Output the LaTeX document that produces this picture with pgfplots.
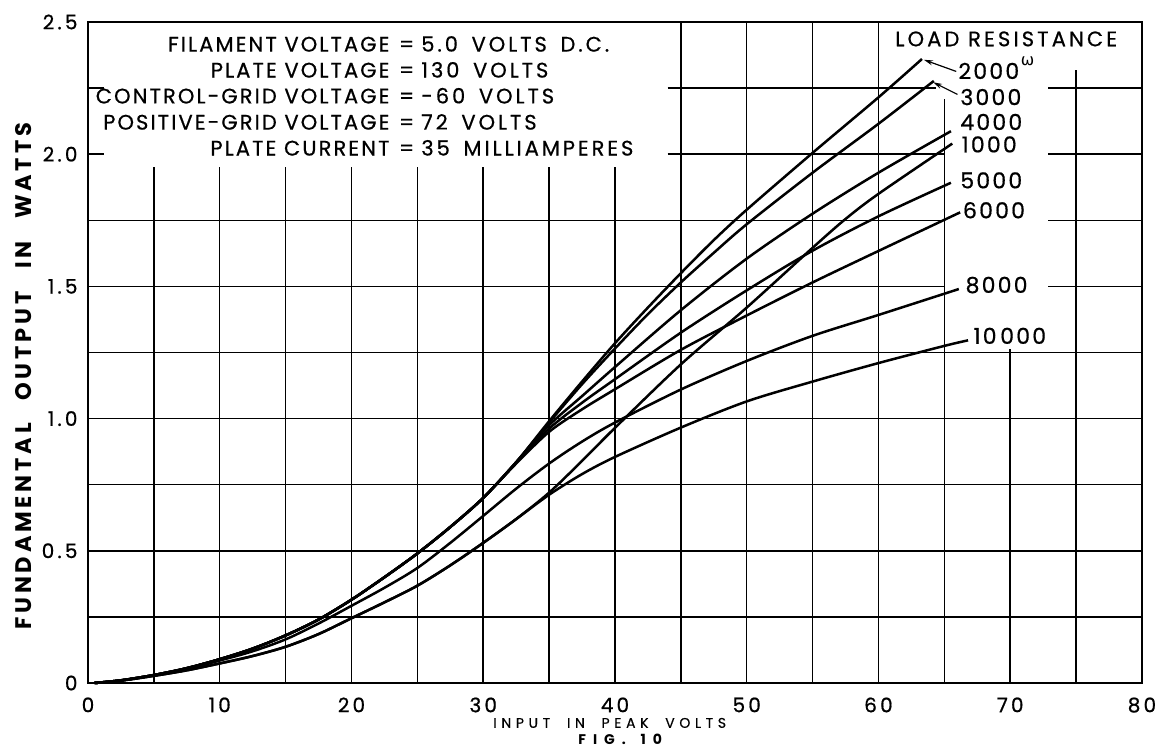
\documentclass[border=0pt]{standalone}
\usepackage{fontspec}
\setmainfont{Poppins}
\newfontfamily\grk{DejaVu Sans}
\newfontfamily\lt{Poppins}[LetterSpace=10, FakeBold=0.6]
\newfontfamily\ltr{Poppins}[LetterSpace=14, FakeBold=0.6, WordSpace=1.6]
\newfontfamily\ltn{Poppins}[LetterSpace=16, FakeBold=0.8]
\newfontfamily\ltw{Poppins}[LetterSpace=15, FakeBold=0.6]
\newfontfamily\ltx{Poppins}[LetterSpace=33, FakeBold=0.4, WordSpace=2]
\newfontfamily\ltf{Poppins}[LetterSpace=50, WordSpace=1.5]
\newfontfamily\lty{Poppins}[LetterSpace=17]
\usepackage{pgfplots}
\pgfplotsset{compat=1.18}
\usetikzlibrary{arrows.meta}
\tikzset{gridln/.style={line width=1.5pt},
  crv/.style={black, solid, line width=2.5pt, smooth, mark=none}}
\newcommand\lab{\lt\fontsize{21}{22}\selectfont}
\newcommand\rlab{\ltr\fontsize{21}{22}\selectfont}
\newcommand\nlab{\lt\fontsize{22}{24}\selectfont}
\begin{document}
\begin{tikzpicture}[x=1pt,y=1pt]
\begin{axis}[
  at={(0pt,0pt)}, anchor=south west,
  width=1054pt, height=661pt, scale only axis,
  xmin=0, xmax=80, ymin=0, ymax=2.5,
  axis line style={line width=2.8pt},
  xtick={0,10,20,30,40,50,60,70,80},
  ytick={0,0.5,1,1.5,2,2.5},
  yticklabels={0,0.5,1.0,1.5,2.0,2.5},
  major tick length=0pt,
  /pgf/number format/assume math mode=true,
  tick label style={font=\ltn\fontsize{20}{22}\selectfont},
  xticklabel style={yshift=-11pt},
  yticklabel style={xshift=-7pt},
  clip=false,
]
% ---- grid with gaps ----
\draw[gridln] (axis cs:5,0) -- (axis cs:5,1.95);
\draw[gridln] (axis cs:10,0) -- (axis cs:10,1.95);
\draw[gridln] (axis cs:15,0) -- (axis cs:15,1.95);
\draw[gridln] (axis cs:20,0) -- (axis cs:20,1.95);
\draw[gridln] (axis cs:25,0) -- (axis cs:25,1.95);
\draw[gridln] (axis cs:30,0) -- (axis cs:30,1.95);
\draw[gridln] (axis cs:35,0) -- (axis cs:35,1.95);
\draw[gridln] (axis cs:40,0) -- (axis cs:40,1.95);
\draw[gridln] (axis cs:45,0) -- (axis cs:45,2.5);
\draw[gridln] (axis cs:50,0) -- (axis cs:50,2.5);
\draw[gridln] (axis cs:55,0) -- (axis cs:55,2.5);
\draw[gridln] (axis cs:60,0) -- (axis cs:60,2.5);
\draw[gridln] (axis cs:65,0) -- (axis cs:65,2.21);
\draw[gridln] (axis cs:70,0) -- (axis cs:70,1.265);
\draw[gridln] (axis cs:75,0) -- (axis cs:75,2.32);
\draw[gridln] (axis cs:0,0.25) -- (axis cs:80,0.25);
\draw[gridln] (axis cs:0,0.5) -- (axis cs:80,0.5);
\draw[gridln] (axis cs:0,0.75) -- (axis cs:80,0.75);
\draw[gridln] (axis cs:0,1.0) -- (axis cs:80,1.0);
\draw[gridln] (axis cs:0,1.25) -- (axis cs:80,1.25);
\draw[gridln] (axis cs:0,1.5) -- (axis cs:65,1.5);
\draw[gridln] (axis cs:72.9,1.5) -- (axis cs:80,1.5);
\draw[gridln] (axis cs:0,1.75) -- (axis cs:65,1.75);
\draw[gridln] (axis cs:72.9,1.75) -- (axis cs:80,1.75);
\draw[gridln] (axis cs:0,2.0) -- (axis cs:1.2,2.0);
\draw[gridln] (axis cs:44,2.0) -- (axis cs:65,2.0);
\draw[gridln] (axis cs:72.9,2.0) -- (axis cs:80,2.0);
\draw[gridln] (axis cs:0,2.25) -- (axis cs:1.2,2.25);
\draw[gridln] (axis cs:44,2.25) -- (axis cs:64.4,2.25);
\draw[gridln] (axis cs:72.9,2.25) -- (axis cs:80,2.25);

% ---- curves ----
% 2000
\addplot[crv] coordinates {(0.5,0) (2.5,0.01) (5,0.03) (7.5,0.056) (10,0.09) (12.5,0.13) (15,0.18) (17.5,0.24) (20,0.315) (22.5,0.40) (25,0.49) (27.5,0.59) (30,0.70) (32.5,0.835) (35,0.99) (37.5,1.14) (40,1.285) (42.5,1.42) (45,1.55) (47.5,1.675) (50,1.79) (55,2.005) (60,2.215) (63.3,2.36)};
% 3000
\addplot[crv] coordinates {(0.5,0) (2.5,0.01) (5,0.03) (7.5,0.056) (10,0.09) (12.5,0.13) (15,0.18) (17.5,0.24) (20,0.315) (22.5,0.40) (25,0.49) (27.5,0.59) (30,0.70) (32.5,0.835) (35,0.985) (37.5,1.13) (40,1.265) (42.5,1.395) (45,1.515) (47.5,1.627) (50,1.735) (55,1.93) (60,2.115) (64.2,2.277)};
% 4000
\addplot[crv] coordinates {(0.5,0) (2.5,0.01) (5,0.03) (7.5,0.056) (10,0.09) (12.5,0.13) (15,0.18) (17.5,0.24) (20,0.315) (22.5,0.40) (25,0.49) (27.5,0.59) (30,0.70) (32.5,0.835) (35,0.975) (37.5,1.085) (40,1.195) (45,1.41) (50,1.605) (55,1.775) (60,1.93) (65.5,2.087)};
% 5000
\addplot[crv] coordinates {(0.5,0) (2.5,0.01) (5,0.03) (7.5,0.056) (10,0.09) (12.5,0.13) (15,0.18) (17.5,0.24) (20,0.315) (22.5,0.40) (25,0.49) (27.5,0.59) (30,0.70) (32.5,0.833) (35,0.962) (37.5,1.06) (40,1.149) (45,1.325) (50,1.485) (55,1.635) (60,1.765) (65.5,1.892)};
% 6000
\addplot[crv] coordinates {(0.5,0) (2.5,0.01) (5,0.03) (7.5,0.056) (10,0.09) (12.5,0.13) (15,0.18) (17.5,0.24) (20,0.315) (22.5,0.40) (25,0.49) (27.5,0.59) (30,0.70) (32.5,0.83) (35,0.95) (37.5,1.035) (40,1.111) (45,1.26) (50,1.39) (55,1.515) (60,1.634) (66.2,1.78)};
% 8000
\addplot[crv] coordinates {(0.5,0) (2.5,0.01) (5,0.029) (7.5,0.053) (10,0.085) (12.5,0.12) (15,0.165) (17.5,0.225) (20,0.292) (22.5,0.36) (25,0.435) (27.5,0.53) (30,0.632) (32.5,0.735) (35,0.83) (37.5,0.913) (40,0.985) (45,1.11) (50,1.218) (55,1.313) (60,1.392) (66.1,1.49)};
% 1000
\addplot[crv] coordinates {(0.5,0) (2.5,0.009) (5,0.027) (7.5,0.048) (10,0.074) (12.5,0.102) (15,0.137) (17.5,0.185) (20,0.245) (22.5,0.305) (25,0.368) (27.5,0.445) (30,0.53) (32.5,0.62) (35,0.72) (37.5,0.84) (40,0.965) (45,1.205) (50,1.42) (55,1.646) (57.5,1.755) (60,1.85) (65.6,2.04)};
% 10000
\addplot[crv] coordinates {(0.5,0) (2.5,0.009) (5,0.027) (7.5,0.048) (10,0.074) (12.5,0.102) (15,0.137) (17.5,0.185) (20,0.245) (22.5,0.305) (25,0.368) (27.5,0.445) (30,0.53) (32.5,0.62) (35,0.712) (37.5,0.79) (40,0.855) (45,0.966) (50,1.065) (55,1.14) (60,1.21) (65,1.275) (66.8,1.296)};

% ---- text block ----
\node[anchor=base east, inner sep=0, font=\lab] at (axis cs:22.9,2.388) {FILAMENT VOLTAGE};
\node[anchor=base west, inner sep=0, font=\rlab] at (axis cs:23.6,2.388) {=\hspace{7pt}5.0 VOLTS D.C.};
\node[anchor=base east, inner sep=0, font=\lab] at (axis cs:22.9,2.290) {PLATE VOLTAGE};
\node[anchor=base west, inner sep=0, font=\rlab] at (axis cs:23.6,2.290) {=\hspace{7pt}130 VOLTS};
\node[anchor=base east, inner sep=0, font=\lab] at (axis cs:22.9,2.192) {CONTROL-GRID VOLTAGE};
\node[anchor=base west, inner sep=0, font=\rlab] at (axis cs:23.6,2.192) {=\hspace{7pt}-60 VOLTS};
\node[anchor=base east, inner sep=0, font=\lab] at (axis cs:22.9,2.093) {POSITIVE-GRID VOLTAGE};
\node[anchor=base west, inner sep=0, font=\rlab] at (axis cs:23.6,2.093) {=\hspace{7pt}72 VOLTS};
\node[anchor=base east, inner sep=0, font=\lab] at (axis cs:22.9,1.995) {PLATE CURRENT};
\node[anchor=base west, inner sep=0, font=\rlab] at (axis cs:23.6,1.995) {=\hspace{7pt}35 MILLIAMPERES};

% ---- curve labels ----
\node[inner sep=0, font=\ltw\fontsize{21}{22}\selectfont] at (axis cs:69.7,2.436) {LOAD RESISTANCE};
\node[anchor=west, inner sep=0, font=\nlab] at (axis cs:66.06,2.315) {2000};
\node[anchor=west, inner sep=0, font=\fontsize{16}{18}\selectfont\grk] at (axis cs:70.8,2.35) {ω};
\node[anchor=west, inner sep=0, font=\nlab] at (axis cs:66.2,2.216) {3000};
\node[anchor=west, inner sep=0, font=\nlab] at (axis cs:66.2,2.122) {4000};
\node[anchor=west, inner sep=0, font=\nlab] at (axis cs:66.3,2.037) {1000};
\node[anchor=west, inner sep=0, font=\nlab] at (axis cs:66.2,1.901) {5000};
\node[anchor=west, inner sep=0, font=\nlab] at (axis cs:66.4,1.788) {6000};
\node[anchor=west, inner sep=0, font=\nlab] at (axis cs:66.6,1.505) {8000};
\node[anchor=west, inner sep=0, font=\nlab] at (axis cs:67.2,1.313) {10\,000};
\draw[line width=1.2pt, -{Stealth[length=9pt,width=5pt]}] (axis cs:65.9,2.313) -- (axis cs:63.45,2.357);
\draw[line width=1.2pt, -{Stealth[length=9pt,width=5pt]}] (axis cs:66.0,2.226) -- (axis cs:64.15,2.272);

% ---- axis labels ----
\node[font=\ltx\fontsize{14}{16}\selectfont] at (axis cs:39.6,-0.151) {INPUT IN PEAK VOLTS};
\node[font=\ltf\fontsize{14}{16}\selectfont\bfseries] at (axis cs:40.4,-0.212) {FIG. 10};
\node[rotate=90, font=\lty\fontsize{22.5}{24}\selectfont\bfseries] at (axis cs:-4.9,1.16) {FUNDAMENTAL\hspace{1em}OUTPUT\hspace{1em}IN\hspace{1em}WATTS};
\end{axis}
\pgfresetboundingbox
\path (-88,-66) rectangle (1073,683);
\end{tikzpicture}
\end{document}
